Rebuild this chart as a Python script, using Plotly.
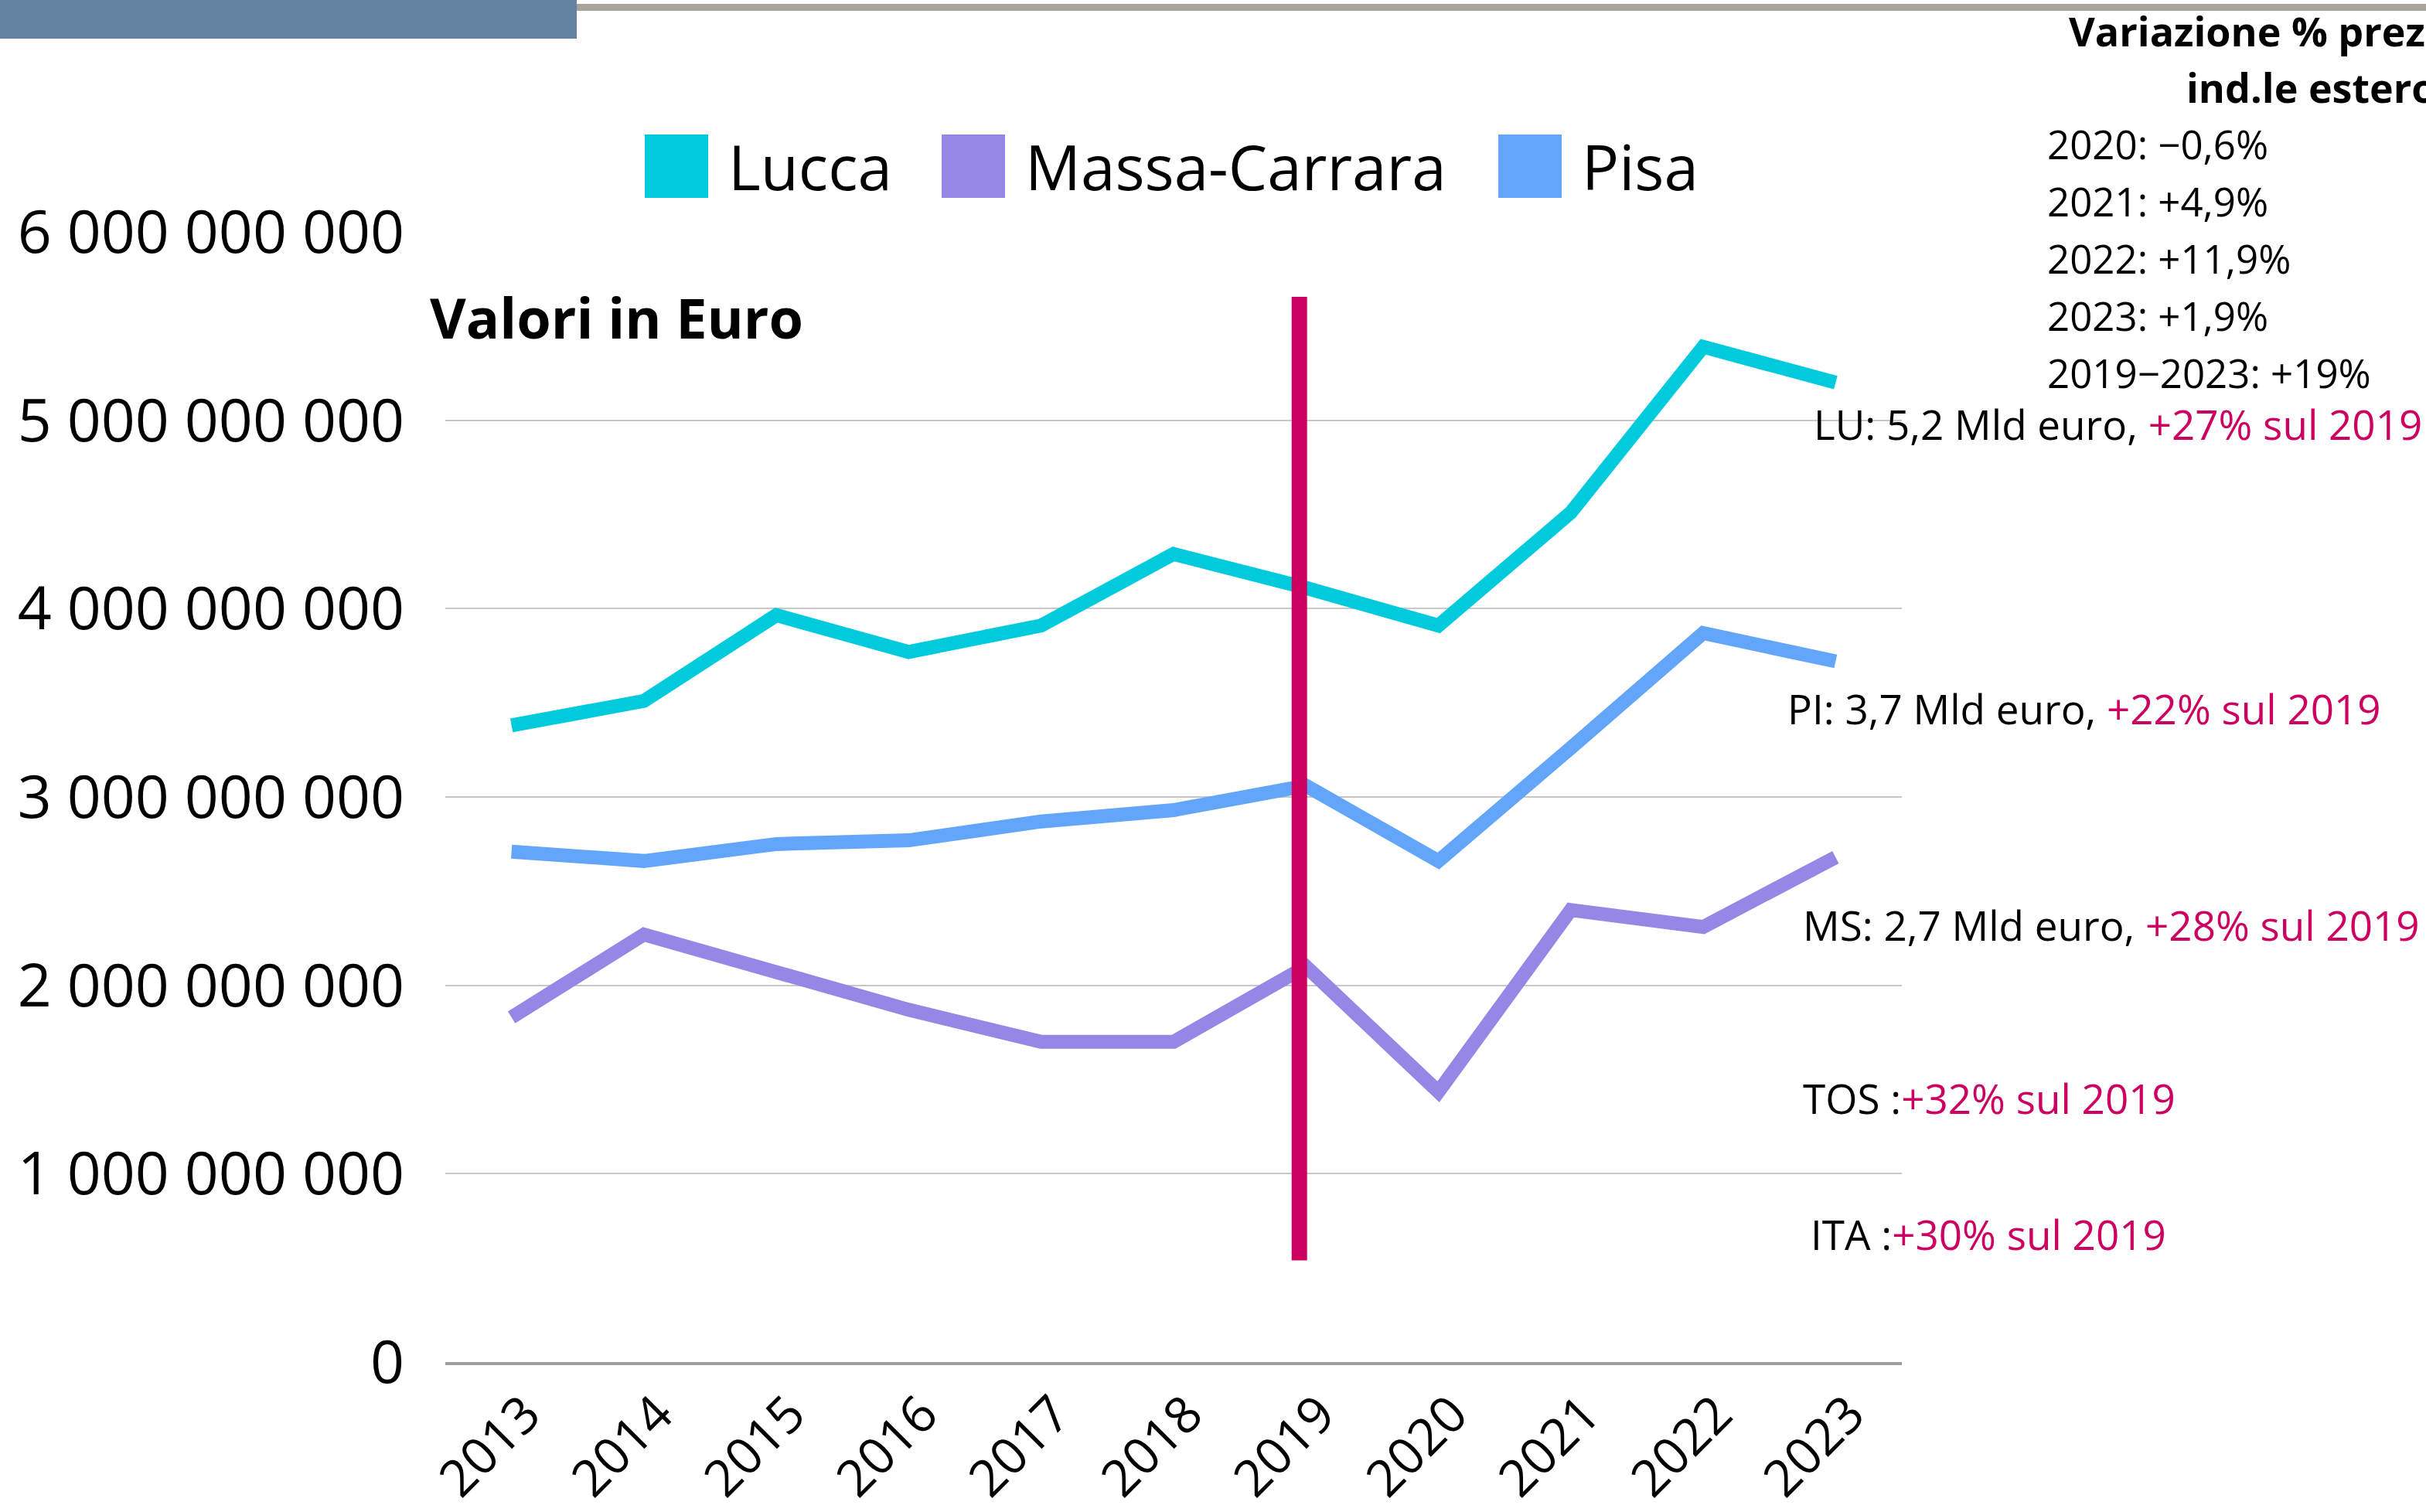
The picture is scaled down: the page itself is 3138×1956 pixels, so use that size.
import plotly.graph_objects as go

# ---------------- data ----------------
years = ["2013", "2014", "2015", "2016", "2017", "2018", "2019", "2020", "2021", "2022", "2023"]
lucca = [3.38e9, 3.51e9, 3.965e9, 3.77e9, 3.91e9, 4.29e9, 4.11e9, 3.91e9, 4.51e9, 5.39e9, 5.20e9]
massa_carrara = [1.83e9, 2.27e9, 2.07e9, 1.87e9, 1.70e9, 1.70e9, 2.10e9, 1.435e9, 2.40e9, 2.31e9, 2.68e9]
pisa = [2.71e9, 2.66e9, 2.75e9, 2.77e9, 2.87e9, 2.93e9, 3.06e9, 2.66e9, 3.26e9, 3.87e9, 3.72e9]
series_names = ["Lucca", "Massa-Carrara", "Pisa"]
ytick_vals = [0, 1e9, 2e9, 3e9, 4e9, 5e9, 6e9]
ytick_text = ["0", "1 000 000 000", "2 000 000 000", "3 000 000 000",
              "4 000 000 000", "5 000 000 000", "6 000 000 000"]
price_lines = ["2020: \u22120,6%", "2021: +4,9%", "2022: +11,9%", "2023: +1,9%", "2019\u22122023: +19%"]
side_notes = [
    ("LU: 5,2 Mld euro, ", "+27% sul 2019"),
    ("PI: 3,7 Mld euro, ", "+22% sul 2019"),
    ("MS: 2,7 Mld euro, ", "+28% sul 2019"),
    ("TOS :", "+32% sul 2019"),
    ("ITA :", "+30% sul 2019"),
]

# ---------------- style ----------------
W, H = 3138, 1956
L, R, T, B = 576, 2460, 300, 1762
FONT = "Open Sans"
C_LU = "#00CADC"
C_MS = "#9687E6"
C_PI = "#63A6F9"
RED = "#CC0060"


def px(x):
    return (x - L) / (R - L)


def py(y):
    return (B - y) / (B - T)


fig = go.Figure()
for name, vals, col in [("Lucca", lucca, C_LU), ("Pisa", pisa, C_PI), ("Massa-Carrara", massa_carrara, C_MS)]:
    fig.add_trace(go.Scatter(x=years, y=vals, name=name, mode="lines",
                             line=dict(color=col, width=18), showlegend=False))

shapes = []
# header band
shapes.append(dict(type="rect", xref="paper", yref="paper", x0=px(0), x1=px(746), y0=py(0), y1=py(50),
                   fillcolor="#6383A1", line=dict(width=0), layer="above"))
shapes.append(dict(type="rect", xref="paper", yref="paper", x0=px(746), x1=px(W), y0=py(5), y1=py(14),
                   fillcolor="#A8A49C", line=dict(width=0), layer="above"))
# 2019 marker
shapes.append(dict(type="line", xref="x", yref="y", x0=5.95, x1=5.95, y0=0.54e9, y1=5.655e9,
                   line=dict(color=RED, width=20), layer="above"))

annotations = []
# legend (manual square swatches)
leg_sw = [834, 1218, 1938]
leg_tx = [940, 1324, 2044]
for nm, col, sx, tx in zip(series_names, [C_LU, C_MS, C_PI], leg_sw, leg_tx):
    shapes.append(dict(type="rect", xref="paper", yref="paper", x0=px(sx), x1=px(sx + 82),
                       y0=py(174), y1=py(256), fillcolor=col, line=dict(width=0)))
    annotations.append(dict(xref="paper", yref="paper", x=px(tx), y=py(214), text=nm, showarrow=False,
                            xanchor="left", yanchor="middle", font=dict(family=FONT, size=80, color="black")))

annotations.append(dict(xref="paper", yref="paper", x=px(554), y=py(410), text="<b>Valori in Euro</b>",
                        showarrow=False, xanchor="left", yanchor="middle",
                        font=dict(family=FONT, size=72, color="black")))

annotations.append(dict(xref="paper", yref="paper", x=px(2674), y=py(40), text="<b>Variazione % prezzi</b>",
                        showarrow=False, xanchor="left", yanchor="middle",
                        font=dict(family=FONT, size=52, color="black")))
annotations.append(dict(xref="paper", yref="paper", x=px(2826), y=py(112), text="<b>ind.le estero</b>",
                        showarrow=False, xanchor="left", yanchor="middle",
                        font=dict(family=FONT, size=52, color="black")))
for i, t in enumerate(price_lines):
    annotations.append(dict(xref="paper", yref="paper", x=px(2646), y=py(186 + 74 * i), text=t,
                            showarrow=False, xanchor="left", yanchor="middle",
                            font=dict(family=FONT, size=51, color="black")))

note_pos = [(2344, 548), (2310, 916), (2330, 1196), (2330, 1420), (2340, 1596)]
for (a, b), (x, y) in zip(side_notes, note_pos):
    annotations.append(dict(xref="paper", yref="paper", x=px(x), y=py(y),
                            text=a + "<span style='color:" + RED + "'>" + b + "</span>",
                            showarrow=False, xanchor="left", yanchor="middle",
                            font=dict(family=FONT, size=53, color="black")))

fig.update_layout(
    width=W, height=H,
    margin=dict(l=L, r=W - R, t=T, b=H - B, pad=0, autoexpand=False),
    paper_bgcolor="white", plot_bgcolor="white",
    showlegend=False,
    shapes=shapes, annotations=annotations,
    font=dict(family=FONT, color="black"),
)
fig.update_xaxes(type="category", range=[-0.5, 10.5], showgrid=False, showline=True,
                 linecolor="#9E9E9E", linewidth=4, ticks="", tickangle=-45, automargin=False,
                 tickfont=dict(family=FONT, size=66, color="black"), ticklabelstandoff=-2,
                 ticklabelshift=18)
fig.update_yaxes(range=[0, 6e9], tickvals=ytick_vals, ticktext=ytick_text, showgrid=True,
                 gridcolor="#C8C8C8", gridwidth=2, zeroline=False, showline=False, ticks="",
                 automargin=False,
                 tickfont=dict(family=FONT, size=77, color="black"), ticklabelstandoff=52)

fig.write_html("out.html", config={"displayModeBar": False},
               post_script="document.body.style.margin='0';document.body.style.overflow='hidden';")
